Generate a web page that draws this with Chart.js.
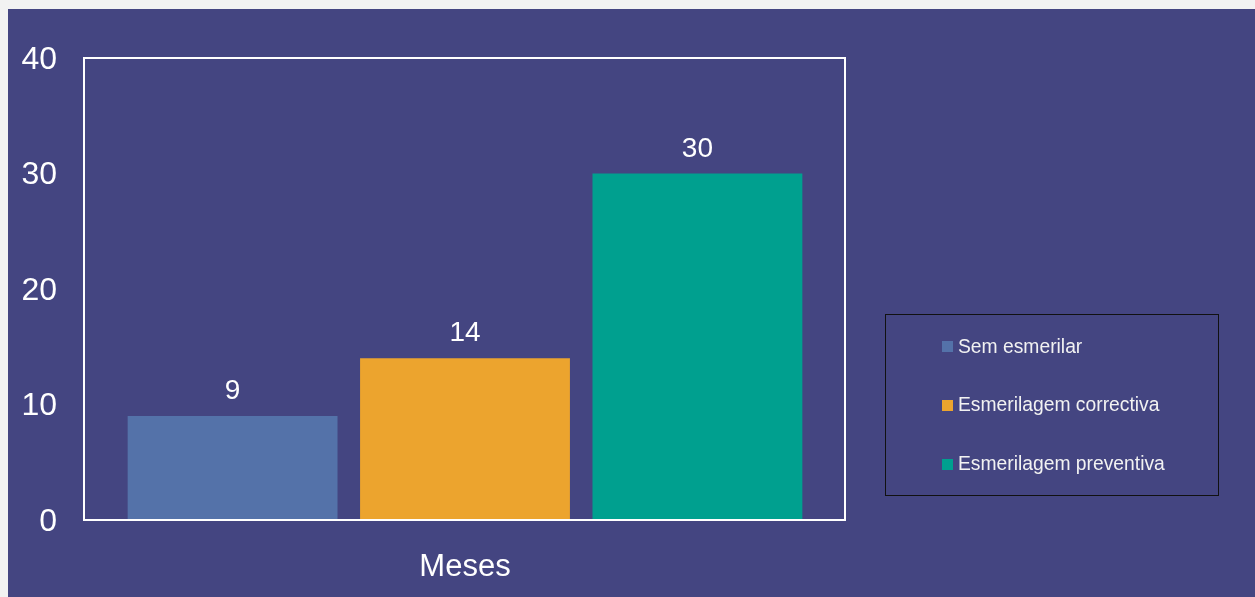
<!DOCTYPE html>
<html>
<head>
<meta charset="utf-8">
<script src="https://cdn.jsdelivr.net/npm/chart.js@4/dist/chart.umd.min.js"></script>
<style>
  html, body { margin: 0; padding: 0; background: #f2f2f2; width: 1255px; height: 597px; overflow: hidden; }
  #wrap { position: absolute; left: 8px; top: 9px; width: 1247px; height: 588px; background: #444581; }
  canvas { display: block; }
</style>
</head>
<body>
<div id="wrap"><canvas id="c" width="1247" height="588"></canvas></div>
<script>
const categories = ['Meses'];
const seriesNames = ['Sem esmerilar', 'Esmerilagem correctiva', 'Esmerilagem preventiva'];
const seriesValues = [9, 14, 30];
const seriesColors = ['#5472A9', '#ECA42E', '#00A08F'];
const yTicks = [0, 10, 20, 30, 40];

const FONT = '"Liberation Sans", Arial, sans-serif';

const datasets = seriesNames.map((name, i) => ({
  label: name,
  data: [seriesValues[i]],
  backgroundColor: seriesColors[i],
  borderWidth: 0,
  categoryPercentage: 0.915,
  barPercentage: 0.903
}));

const plotBorder = {
  id: 'plotBorder',
  afterDatasetsDraw(chart) {
    const { ctx, chartArea: a } = chart;
    ctx.save();
    ctx.strokeStyle = '#ffffff';
    ctx.lineWidth = 2;
    ctx.strokeRect(a.left, a.top, a.right - a.left - 1, a.bottom - a.top);
    ctx.restore();
  }
};

const dataLabels = {
  id: 'dataLabels',
  afterDatasetsDraw(chart) {
    const { ctx } = chart;
    ctx.save();
    ctx.fillStyle = '#ffffff';
    ctx.font = '28px ' + FONT;
    ctx.textAlign = 'center';
    ctx.textBaseline = 'alphabetic';
    chart.data.datasets.forEach((ds, i) => {
      const meta = chart.getDatasetMeta(i);
      meta.data.forEach((el, j) => {
        ctx.fillText(String(ds.data[j]), el.x, el.y - 17);
      });
    });
    ctx.restore();
  }
};

const boxLegend = {
  id: 'boxLegend',
  afterDraw(chart) {
    const { ctx } = chart;
    ctx.save();
    ctx.strokeStyle = '#111111';
    ctx.lineWidth = 1;
    ctx.strokeRect(877.5, 305.5, 333, 181);
    ctx.font = '19.3px ' + FONT;
    ctx.textBaseline = 'middle';
    ctx.textAlign = 'left';
    const rows = [337.5, 396, 455];
    chart.data.datasets.forEach((ds, i) => {
      const y = rows[i];
      ctx.fillStyle = ds.backgroundColor;
      ctx.fillRect(934, Math.round(y - 5.5), 11, 11);
      ctx.fillStyle = '#f2f2f2';
      ctx.fillText(ds.label, 950, y + 1);
    });
    ctx.restore();
  }
};

new Chart(document.getElementById('c'), {
  type: 'bar',
  data: { labels: categories, datasets },
  options: {
    responsive: false,
    animation: false,
    devicePixelRatio: 1,
    layout: { padding: { top: 49, right: 409, left: 0, bottom: 0 } },
    plugins: {
      legend: { display: false },
      tooltip: { enabled: false }
    },
    scales: {
      x: {
        grid: { display: false, drawTicks: false },
        border: { display: false },
        ticks: { color: '#ffffff', font: { size: 31, family: FONT }, padding: 29 },
        afterFit(scale) { scale.height = 77; }
      },
      y: {
        min: 0,
        max: 40,
        afterBuildTicks(scale) { scale.ticks = yTicks.map(v => ({ value: v })); },
        grid: { display: false, drawTicks: false },
        border: { display: false },
        ticks: { color: '#ffffff', font: { size: 32, family: FONT }, padding: 27, labelOffset: 2 },
        afterFit(scale) { scale.width = 76; }
      }
    }
  },
  plugins: [plotBorder, dataLabels, boxLegend]
});
</script>
</body>
</html>
